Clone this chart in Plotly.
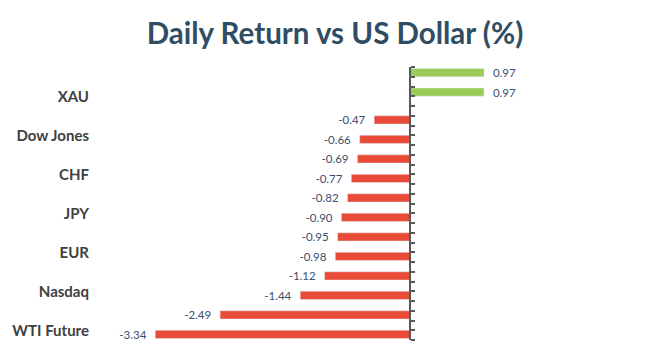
import plotly.graph_objects as go

# 14 categories, top to bottom; only every other one is labelled in the reference
tick_labels = ["", "XAU", "", "Dow Jones", "", "CHF", "", "JPY", "", "EUR", "", "Nasdaq", "", "WTI Future"]
values = [0.97, 0.97, -0.47, -0.66, -0.69, -0.77, -0.82, -0.90, -0.95, -0.98, -1.12, -1.44, -2.49, -3.34]
slots = [str(i) for i in range(len(values))]

pos_vals = [v if v >= 0 else None for v in values]
neg_vals = [v if v < 0 else None for v in values]

GREEN = "#9BCB59"
RED = "#E84B37"
LABEL_COLOR = "#3B4E6E"

x_range = [-4.09, 1.966]
zero_pos = (0 - x_range[0]) / (x_range[1] - x_range[0])

fig = go.Figure()
for vals, col, tmpl in ((pos_vals, GREEN, "\u00a0\u00a0%{x:.2f}"),
                        (neg_vals, RED, "%{x:.2f}\u00a0\u00a0")):
    fig.add_trace(go.Bar(
        y=slots, x=vals, orientation="h", marker_color=col,
        texttemplate=tmpl, textposition="outside", cliponaxis=False,
        constraintext="none",
        textfont=dict(family="Lato", size=11.5, color=LABEL_COLOR), showlegend=False,
    ))

fig.update_layout(
    width=670, height=353,
    margin=dict(l=98, r=110, t=67, b=13),
    paper_bgcolor="white", plot_bgcolor="white",
    barmode="group", bargap=0.15, bargroupgap=0,
    title=dict(text="<b>Daily Return vs US Dollar (%)</b>", x=0.5, xanchor="center",
               y=0.905, yanchor="middle",
               font=dict(family="Lato", size=29.5, color="#2F4D63")),
    xaxis=dict(range=x_range, showgrid=False, zeroline=False, showticklabels=False,
               showline=False, ticks=""),
    yaxis=dict(type="category", autorange="reversed", tickmode="array",
               tickvals=slots, ticktext=tick_labels, ticks="", showline=False,
               showgrid=False, ticklabelstandoff=8,
               tickfont=dict(family="Lato", size=15, color="#404040", weight="bold")),
    yaxis2=dict(overlaying="y", anchor="free", position=zero_pos, side="right",
                range=[len(values) - 0.5, -0.5], tick0=-0.5, dtick=0.5,
                ticks="outside", ticklen=4, tickwidth=1.5, tickcolor="#595959",
                showline=True, linecolor="#595959", linewidth=2,
                showticklabels=False, showgrid=False, zeroline=False),
)

# invisible trace to activate the zero axis (yaxis2)
fig.add_trace(go.Scatter(x=[None], y=[None], yaxis="y2", showlegend=False, hoverinfo="skip"))

fig.write_html("out.html")
